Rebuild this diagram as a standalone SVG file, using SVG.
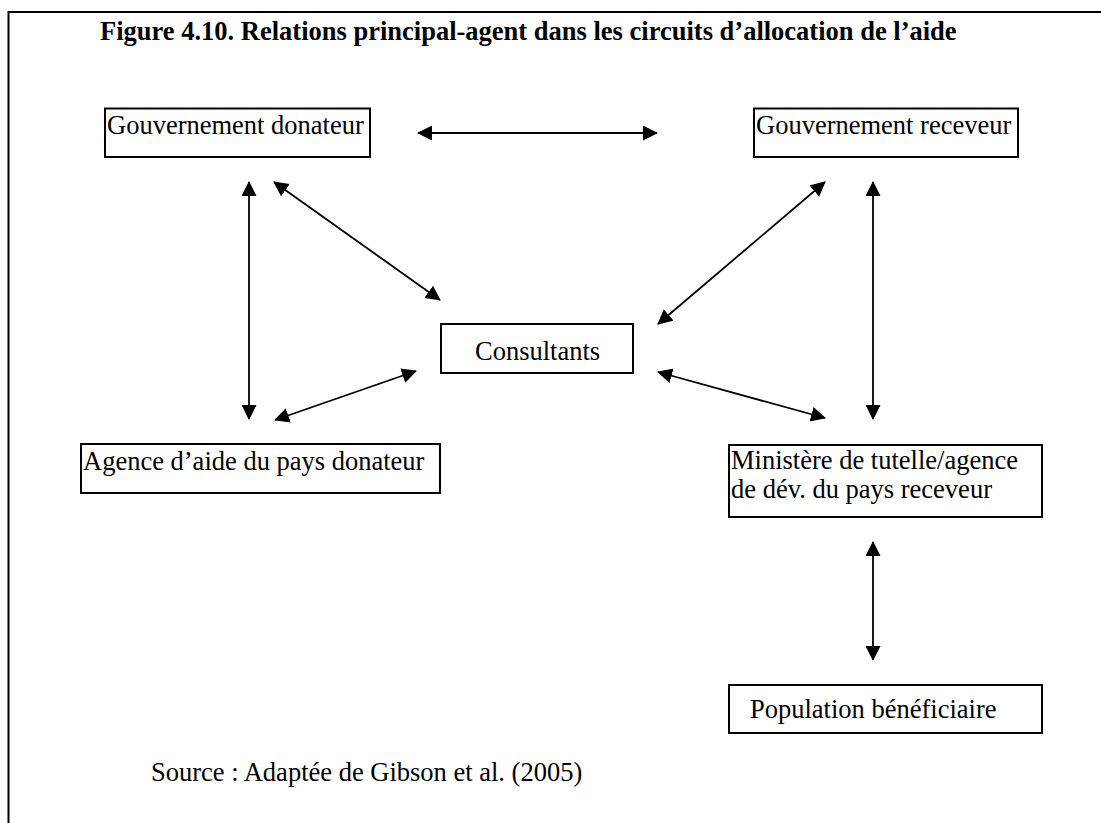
<svg xmlns="http://www.w3.org/2000/svg" width="1101" height="823" viewBox="0 0 1101 823">
  <style>
    .frame { fill: none; stroke: #000; stroke-width: 2; }
    .box { fill: #fff; stroke: #000; stroke-width: 2; }
    .lbl { font-family: "Liberation Serif", "Times New Roman", serif; font-size: 26.5px; fill: #000; }
    .title { font-family: "Liberation Serif", "Times New Roman", serif; font-size: 26.5px; font-weight: bold; fill: #000; }
    .link { fill: none; stroke: #000; stroke-width: 1.8; marker-start: url(#head); marker-end: url(#head); }
  </style>
  <defs>
    <marker id="head" markerUnits="userSpaceOnUse" markerWidth="16" markerHeight="16" viewBox="0 0 16 16" refX="14" refY="7.5" orient="auto-start-reverse">
      <path d="M0,0 L15,7.5 L0,15 z" fill="#000"/>
    </marker>
  </defs>

  <rect width="1101" height="823" fill="#fff"/>

  <!-- page frame: left and top rules -->
  <path class="frame" d="M8.5,823 V12 H1101"/>

  <text class="title" x="100" y="40">Figure 4.10. Relations principal-agent dans les circuits d’allocation de l’aide</text>

  <g id="gouv-donateur">
    <rect class="box" x="105" y="108.5" width="265" height="48.5"/>
    <text class="lbl" x="107" y="134">Gouvernement donateur</text>
  </g>

  <g id="gouv-receveur">
    <rect class="box" x="754" y="108.5" width="264" height="48.5"/>
    <text class="lbl" x="756" y="134">Gouvernement receveur</text>
  </g>

  <g id="consultants">
    <rect class="box" x="441" y="324" width="192" height="49"/>
    <text class="lbl" x="475" y="360">Consultants</text>
  </g>

  <g id="agence-donateur">
    <rect class="box" x="81" y="444" width="359" height="49"/>
    <text class="lbl" x="83" y="470">Agence d’aide du pays donateur</text>
  </g>

  <g id="ministere">
    <rect class="box" x="729" y="445" width="313" height="72"/>
    <text class="lbl" x="731" y="469">Ministère de tutelle/agence</text>
    <text class="lbl" x="731" y="498">de dév. du pays receveur</text>
  </g>

  <g id="population">
    <rect class="box" x="729" y="685" width="313" height="48"/>
    <text class="lbl" x="750" y="718">Population bénéficiaire</text>
  </g>

  <text class="lbl" x="151" y="781">Source : Adaptée de Gibson et al. (2005)</text>

  <g id="connectors">
    <line class="link" x1="418" y1="133" x2="657" y2="133"/>
    <line class="link" x1="249" y1="182" x2="249" y2="419"/>
    <line class="link" x1="274" y1="182" x2="440" y2="300"/>
    <line class="link" x1="275" y1="420" x2="416" y2="371"/>
    <line class="link" x1="825" y1="182" x2="658" y2="324"/>
    <line class="link" x1="658" y1="372" x2="825" y2="418"/>
    <line class="link" x1="873" y1="182" x2="873" y2="419"/>
    <line class="link" x1="873" y1="542" x2="873" y2="660"/>
  </g>
</svg>
